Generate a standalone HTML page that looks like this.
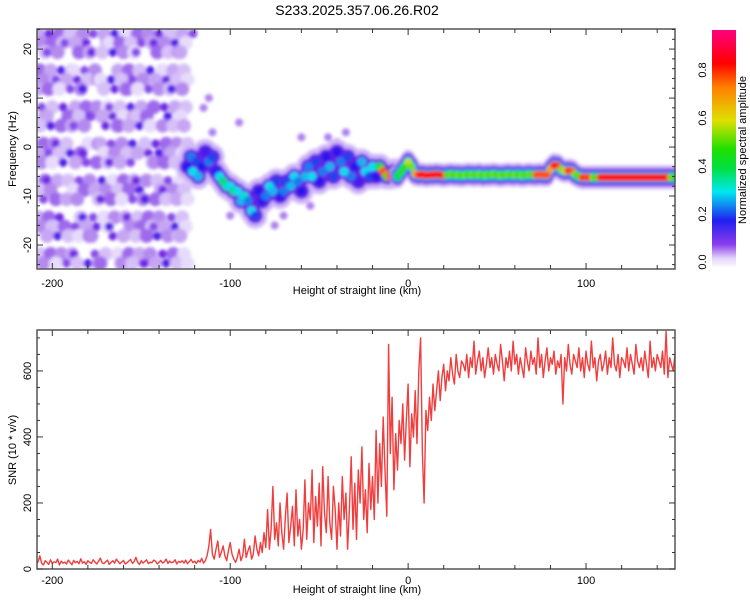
<!DOCTYPE html>
<html><head><meta charset="utf-8"><style>
body{margin:0;background:#fff;}
svg{display:block;font-family:"Liberation Sans",sans-serif;}
</style></head><body>
<svg id="chart" width="750" height="600" viewBox="0 0 750 600">
<defs>
<filter id="blur" x="-5%" y="-5%" width="110%" height="110%"><feGaussianBlur stdDeviation="1.6"/></filter>
<clipPath id="clipTop"><rect x="37" y="29" width="638" height="240"/></clipPath>
<clipPath id="clipBot"><rect x="37" y="330" width="638" height="239"/></clipPath>
<linearGradient id="cbar" x1="0" y1="1" x2="0" y2="0">
<stop offset="0" stop-color="#ffffff"/><stop offset="0.04" stop-color="#e4d4fa"/><stop offset="0.1" stop-color="#8a3cec"/>
<stop offset="0.2" stop-color="#2020f0"/><stop offset="0.32" stop-color="#00e8f0"/><stop offset="0.42" stop-color="#00e040"/>
<stop offset="0.5" stop-color="#20e000"/><stop offset="0.62" stop-color="#e0e000"/><stop offset="0.76" stop-color="#ff8000"/>
<stop offset="0.86" stop-color="#ff0000"/><stop offset="1" stop-color="#ff0080"/>
</linearGradient>
</defs>
<text x="357" y="15" font-size="14" text-anchor="middle" fill="#000">S233.2025.357.06.26.R02</text>
<g id="topPanel"></g>
<g id="botPanel"></g>
<g id="cb">
<rect x="712" y="30" width="24" height="238" fill="url(#cbar)"/>
<text transform="translate(746,150) rotate(-90)" font-size="11" text-anchor="middle">Normalized spectral amplitude</text>
</g>
</svg>
<script>
// ---------- data ----------
const noiseRows = [
"375204638215472036","452637041526374810","264053728416052430","538216407352861320",
"406372518264037210","351648027351642840","627035416283057320","430528637142508610",
"285364072538164230","547201536480275420","362857014623784310","418036527360145230",
"573264081537426810","240715346258037420","685340275164852310","357028614372540620",
"420563718045263810","638215407362584230","254370628153407510","471628350426738210"];
const clusterKm  = [-124,-122,-121,-119,-118,-116,-114,-112,-110,-108,-106,-104,-102,-100,-98,-96,-94,-92,-90,-88,-86,-84,-82,-80,-78,-76,-74,-72,-70,-68,-66,-64,-62,-60,-58,-56,-54,-52,-50,-48,-46,-44,-42,-40,-38,-36,-34,-32,-30,-28,-26,-24,-22,-20,-18,-16,-14,-12,-10,-8];
const clusterFreq= [-4,-2,-5,-3,-6,-4,-1,-3,-2,-5,-6,-7,-8,-8,-9,-9,-11,-10,-11,-13,-14,-9,-11,-10,-8,-9,-7,-10,-9,-7,-8,-6,-7,-9,-6,-4,-6,-3,-7,-5,-2,-4,-6,-1,-3,-5,-2,-6,-4,-7,-3,-5,-6,-4,-6,-4,-5,-6,-6,-5];
const clusterAmp = [0.2,0.25,0.3,0.22,0.28,0.2,0.18,0.25,0.22,0.2,0.3,0.38,0.35,0.3,0.4,0.3,0.28,0.32,0.25,0.3,0.22,0.2,0.2,0.25,0.3,0.28,0.22,0.2,0.25,0.22,0.28,0.3,0.25,0.2,0.28,0.25,0.3,0.22,0.2,0.25,0.2,0.28,0.22,0.2,0.25,0.3,0.22,0.25,0.2,0.18,0.28,0.3,0.22,0.3,0.2,0.45,0.8,0.5,0.85,0.5];
const strayKm   = [-82,-70,-100,-60,-45,-35,-110,-115,-95,-75,-55,-40,-112];
const strayFreq = [-15,-14,-14,2,2,3,3,8,5,-16,-12,1,10];
const ridgeKm = [-6,-4,-2,0,2,4,6,8,10,12,14,16,18,20,22,24,26,28,30,32,34,36,38,40,42,44,46,48,50,52,54,56,58,60,62,64,66,68,70,72,74,76,78,80,82,84,86,88,90,92,94,96,98,100,102,104,106,108,110,112,114,116,118,120,122,124,126,128,130,132,134,136,138,140,142,144,146,148,150];
const ridgeFreq = [-6,-5,-4,-3,-4,-5.5,-5.7,-5.6,-5.8,-5.7,-5.7,-5.6,-5.7,-5.8,-5.7,-5.6,-5.7,-5.7,-5.8,-5.7,-5.6,-5.7,-5.7,-5.6,-5.8,-5.7,-5.7,-5.6,-5.7,-5.8,-5.7,-5.6,-5.7,-5.7,-5.6,-5.8,-5.7,-5.6,-5.7,-5.7,-5.6,-5.7,-5.7,-4.5,-3.7,-3.8,-4.6,-4.9,-4.8,-4.9,-5.6,-6,-6.2,-6.2,-6.2,-6.2,-6.2,-6.2,-6.2,-6.2,-6.2,-6.2,-6.2,-6.2,-6.2,-6.2,-6.2,-6.2,-6.2,-6.2,-6.2,-6.2,-6.2,-6.2,-6.2,-6.2,-6.2,-6.2,-6.2];
const ridgeAmp = [0.45,0.5,0.5,0.6,0.55,0.7,0.85,0.85,0.85,0.85,0.85,0.85,0.85,0.85,0.45,0.55,0.45,0.55,0.45,0.55,0.45,0.55,0.45,0.55,0.45,0.55,0.45,0.55,0.45,0.55,0.45,0.55,0.45,0.55,0.45,0.55,0.45,0.55,0.45,0.8,0.8,0.8,0.8,0.7,0.85,0.85,0.55,0.6,0.85,0.8,0.55,0.5,0.85,0.8,0.85,0.55,0.5,0.85,0.85,0.85,0.85,0.85,0.85,0.85,0.85,0.85,0.85,0.85,0.85,0.85,0.85,0.85,0.85,0.85,0.85,0.85,0.85,0.55,0.5];
const snrStartKm = -209;
const snrValues = [15,22,40,18,12,25,20,14,28,17,22,19,30,12,24,18,21,15,27,20,
13,26,19,23,16,31,18,22,14,25,20,17,28,21,15,24,33,19,16,22,
27,14,20,25,18,30,23,16,21,26,15,19,24,29,17,22,35,20,14,25,
18,23,28,16,21,19,27,24,15,20,26,18,22,30,17,24,19,21,28,15,
23,20,25,18,27,16,22,29,19,24,17,26,21,32,18,
25,40,70,120,45,30,60,85,35,50,70,40,25,55,80,45,30,20,35,60,
25,40,90,35,55,70,30,45,100,60,40,80,50,110,65,
180,60,120,250,90,140,70,200,110,60,160,230,80,130,190,70,240,100,150,60,
120,270,90,200,150,300,80,220,130,260,70,310,170,110,280,140,90,250,180,60,
200,100,280,150,230,60,180,340,120,260,90,300,200,370,150,240,110,320,180,280,
150,420,200,380,250,460,300,160,680,350,520,240,410,300,450,
380,500,330,450,560,310,470,400,540,380,600,700,350,200,480,
420,520,450,560,480,540,600,510,580,620,540,600,570,640,590,560,650,600,580,630,
620,600,650,580,640,610,690,590,630,660,600,640,580,620,670,610,640,590,650,620,
600,680,630,570,640,610,660,600,690,620,650,590,640,610,580,670,630,600,660,620,
640,590,700,610,650,580,630,670,600,640,620,660,590,630,610,650,500,640,600,680,
620,590,650,630,610,670,600,640,580,660,620,600,690,610,640,570,630,650,600,620,
660,590,640,610,700,620,600,650,580,640,630,610,670,600,650,620,590,680,630,610,
640,600,660,620,580,690,610,640,600,650,630,610,660,590,720,580,640,620,600,650];
const xTicks = [-200,-100,0,100];
const freqTicks = [-20,-10,0,10,20];
const snrTicks = [0,200,400,600];
const cbTicks = [0.0,0.2,0.4,0.6,0.8];

// ---------- scales ----------
const X0=37,X1=675,KM0=-208.6,KM1=150;
const xs = km => X0+(km-KM0)*(X1-X0)/(KM1-KM0);
const fy = f => 269-(f+24.9)*240/49;
const sy = v => 569-v*239/724;
const cby = a => 262-a*240;
const NS='http://www.w3.org/2000/svg';
function mk(tag,attrs,parent){const e=document.createElementNS(NS,tag);for(const k in attrs)e.setAttribute(k,attrs[k]);parent.appendChild(e);return e;}
const stops=[[0,[255,255,255]],[0.02,[232,220,251]],[0.08,[184,144,240]],[0.15,[110,34,230]],[0.2,[40,24,236]],[0.3,[0,225,240]],[0.42,[0,224,64]],[0.5,[40,224,0]],[0.62,[224,224,0]],[0.76,[255,128,0]],[0.86,[255,0,0]],[1,[255,0,128]]];
function cmap(a){for(let i=1;i<stops.length;i++){if(a<=stops[i][0]){const[a0,c0]=stops[i-1],[a1,c1]=stops[i];const tt=(a-a0)/(a1-a0);return 'rgb('+c0.map((c,j)=>Math.round(c+(c1[j]-c)*tt)).join(',')+')';}}return 'rgb(255,0,128)';}

const topP=document.getElementById('topPanel');
const img=mk('g',{'clip-path':'url(#clipTop)'},topP);


const blurG=mk('g',{filter:'url(#blur)'},img);
noiseRows.forEach((row,i)=>{const f=23.75-2.5*i;for(let j=0;j<row.length;j++){const d=+row[j];if(!d)continue;const km=-206+5*j+((i*37+j*11)%5)-2;
 const e=mk('ellipse',{cx:xs(km),cy:fy(f+((i+j*3)%3-1)*0.6),rx:d>5?4.5:7,ry:d>5?4.5:7,fill:cmap(d*0.021)},blurG);
 
 }});
strayKm.forEach((k,i)=>{const e=mk('ellipse',{cx:xs(k),cy:fy(strayFreq[i]),rx:4,ry:4,fill:cmap(0.09)},blurG);
 
 });
[[12,13,0.05],[8,8,0.16],[4.5,4.5,null]].forEach(([rx,ry,a])=>{clusterKm.forEach((k,i)=>{const e=mk('ellipse',{cx:xs(k),cy:fy(clusterFreq[i]),rx:rx,ry:ry,fill:cmap(a===null?clusterAmp[i]:Math.min(a,clusterAmp[i]))},blurG);
 
 });});
[[8,12,0.05],[7,9,0.13],[6,7,0.19],[5,5.5,0.28],[4,3.8,null]].forEach(([rx,ry,a])=>{ridgeKm.forEach((k,i)=>{const e=mk('ellipse',{cx:xs(k),cy:fy(ridgeFreq[i]),rx:rx,ry:ry,fill:cmap(a===null?ridgeAmp[i]:a)},blurG);
 
 });});

function frame(g,y0,y1){mk('rect',{x:X0,y:y0,width:X1-X0,height:y1-y0,fill:'none',stroke:'#555','stroke-width':1.5},g);
 for(let k=-200;k<=150;k+=20){const x=xs(k);const L=(k%100===0)?6:4;mk('line',{x1:x,x2:x,y1:y1,y2:y1-L,stroke:'#333'},g);mk('line',{x1:x,x2:x,y1:y0,y2:y0+L,stroke:'#333'},g);}}
frame(topP,29,269);
for(let f=-24;f<=24;f+=2){const y=fy(f);const L=(f%10===0)?6:3;mk('line',{x1:X0,x2:X0+L,y1:y,y2:y,stroke:'#333'},topP);mk('line',{x1:X1,x2:X1-L,y1:y,y2:y,stroke:'#333'},topP);}
xTicks.forEach(k=>{const t=mk('text',{x:xs(k),y:287,'font-size':11,'text-anchor':'middle'},topP);t.textContent=k;
 
 });
freqTicks.forEach(f=>{const t=mk('text',{transform:`translate(31,${fy(f)}) rotate(-90)`,'font-size':11,'text-anchor':'middle'},topP);t.textContent=f;
 
 });
let lab=mk('text',{x:357,y:294,'font-size':11,'text-anchor':'middle'},topP);lab.textContent='Height of straight line (km)';


lab=mk('text',{transform:'translate(16,149) rotate(-90)','font-size':11,'text-anchor':'middle'},topP);lab.textContent='Frequency (Hz)';



const botP=document.getElementById('botPanel');
const lg=mk('g',{'clip-path':'url(#clipBot)'},botP);
const pts=snrValues.map((v,i)=>xs(snrStartKm+i).toFixed(1)+','+sy(v).toFixed(1)).join(' ');
const pl=mk('polyline',{points:pts,fill:'none',stroke:'#f02828','stroke-width':1.4,'stroke-opacity':0.9,'stroke-linejoin':'round'},lg);


frame(botP,330,569);
for(let v=0;v<=700;v+=50){const y=sy(v);const L=(v%200===0)?6:3;mk('line',{x1:X0,x2:X0+L,y1:y,y2:y,stroke:'#333'},botP);mk('line',{x1:X1,x2:X1-L,y1:y,y2:y,stroke:'#333'},botP);}
xTicks.forEach(k=>{const t=mk('text',{x:xs(k),y:584,'font-size':11,'text-anchor':'middle'},botP);t.textContent=k;
 
 });
snrTicks.forEach(v=>{const t=mk('text',{transform:`translate(31,${sy(v)}) rotate(-90)`,'font-size':11,'text-anchor':'middle'},botP);t.textContent=v;
 
 });
lab=mk('text',{x:357,y:593,'font-size':11,'text-anchor':'middle'},botP);lab.textContent='Height of straight line (km)';


lab=mk('text',{transform:'translate(16,450) rotate(-90)','font-size':11,'text-anchor':'middle'},botP);lab.textContent='SNR (10 * v/v)';



const cb=document.getElementById('cb');
cbTicks.forEach(a=>{const t=mk('text',{transform:`translate(706,${cby(a)}) rotate(-90)`,'font-size':11,'text-anchor':'middle'},cb);t.textContent=a.toFixed(1);
 
 });
</script>
</body></html>
